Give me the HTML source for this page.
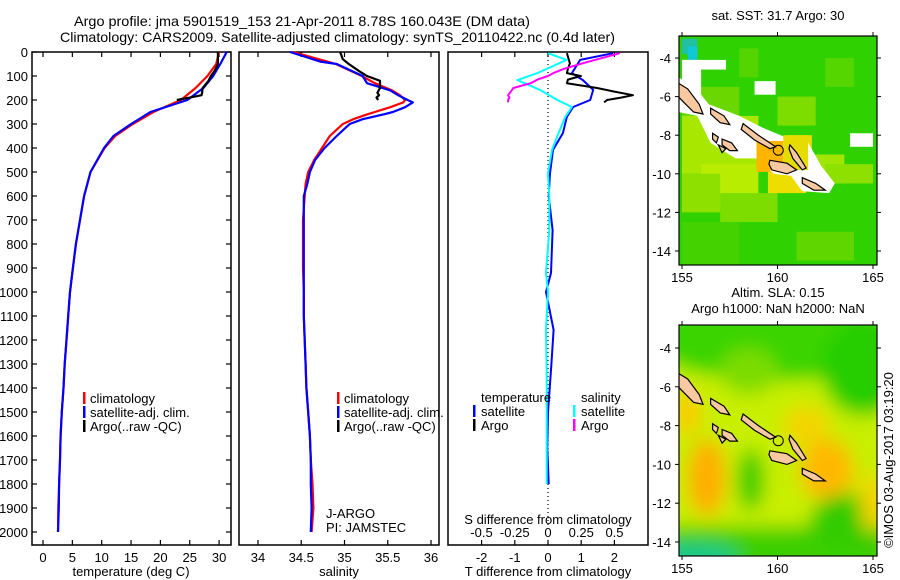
<!DOCTYPE html>
<html><head><meta charset="utf-8">
<style>
html,body{margin:0;padding:0;background:#fff;}
svg{display:block;font-family:"Liberation Sans",sans-serif;}
</style></head>
<body>
<svg id="fig" width="900" height="580" viewBox="0 0 900 580" xmlns="http://www.w3.org/2000/svg">
<defs>
<clipPath id="m1clip"><rect x="679" y="36" width="198" height="229"/></clipPath>
<clipPath id="m2clip"><rect x="679" y="325" width="198" height="231"/></clipPath>
<filter id="blur" x="-20%" y="-20%" width="140%" height="140%"><feGaussianBlur stdDeviation="9"/></filter>
</defs>
<text x="74" y="26" font-size="14" textLength="456" lengthAdjust="spacingAndGlyphs">Argo profile: jma 5901519_153 21-Apr-2011 8.78S 160.043E (DM data)</text>
<text x="60" y="42" font-size="14" textLength="555" lengthAdjust="spacingAndGlyphs">Climatology: CARS2009. Satellite-adjusted climatology: synTS_20110422.nc (0.4d later)</text>
<g id="panels"></g>
<g id="maps"></g>
<text transform="translate(893,460) rotate(-90)" font-size="13" text-anchor="middle">©IMOS 03-Aug-2017 03:19:20</text>
</svg>
<script>
// ---- data ----
const tDepth   = [0,50,100,150,200,250,300,350,400,500,600,700,800,900,1000,1100,1200,1300,1400,1500,1600,1700,1800,1900,2000];
const tClim    = [30.0,29.5,28.0,26.0,23.5,18.8,15.3,12.3,10.5,8.1,7.0,6.3,5.6,5.1,4.6,4.3,4.0,3.7,3.5,3.2,3.0,2.9,2.75,2.6,2.55];
const tSat     = [31.3,30.2,29.0,27.3,24.6,18.3,15.0,12.0,10.4,8.1,7.0,6.3,5.6,5.1,4.6,4.3,4.0,3.7,3.5,3.2,3.0,2.9,2.75,2.7,2.55];
const argoDepth= [0,30,50,80,100,120,150,170,180,190,200];
const tArgo    = [29.8,29.8,29.8,29.2,28.6,28.2,27.2,27.1,27.0,25.0,22.8];
const sDepth   = [0,40,50,100,130,160,180,200,210,230,250,260,280,300,350,400,450,500,550,600,700,800,900,1000,1100,1200,1300,1400,1500,1600,1700,1800,1900,2000];
const sClim    = [34.41,34.8,34.9,35.2,35.35,35.55,35.64,35.7,35.68,35.53,35.35,35.26,35.1,34.98,34.83,34.74,34.65,34.58,34.55,34.54,34.52,34.52,34.52,34.53,34.53,34.54,34.55,34.56,34.58,34.6,34.61,34.63,34.64,34.62];
const sSat     = [34.37,34.72,34.91,35.21,35.26,35.53,35.62,35.73,35.79,35.7,35.56,35.45,35.21,35.06,34.91,34.77,34.66,34.6,34.57,34.53,34.53,34.53,34.53,34.53,34.53,34.54,34.55,34.56,34.58,34.6,34.61,34.61,34.62,34.61];
const sArgo    = [34.95,34.98,35.05,35.17,35.26,35.41,35.41,35.38,35.4,35.37,35.39];
const dDepth   = [5,33,88,117,158,200,229,270,338,408,505,600,742,921,1000,1158,1325,1500,1650,1800];
const dTsat    = [1.96,0.97,0.72,1.05,1.36,1.27,0.76,0.57,0.45,0.15,0.06,0.02,0.14,0.09,-0.06,0.17,0.09,0.0,-0.02,0.02];
const dSsat    = [0.0,0.14,-0.08,-0.23,-0.06,0.07,0.18,0.13,0.08,0.03,0.0,0.01,0.01,-0.015,0.0,-0.015,-0.01,-0.01,-0.01,-0.01];
const dArgoDepth=[5,47,70,88,100,115,130,150,165,180,190,200,210];
const dTargo   = [0.57,0.66,0.6,0.57,0.99,0.6,0.57,1.48,2.0,2.56,2.2,1.78,1.69];
const dSargo   = [0.54,0.26,0.12,0.04,0.0,-0.08,-0.13,-0.26,-0.28,-0.3,-0.29,-0.3,-0.3];
const depthTicks = [0,100,200,300,400,500,600,700,800,900,1000,1100,1200,1300,1400,1500,1600,1700,1800,1900,2000];
const tTicks = [0,5,10,15,20,25,30];
const sTicks = [34,34.5,35,35.5,36];
const dTTicks = [-2,-1,0,1,2];
const dSTicks = [-0.5,-0.25,0,0.25,0.5];
const lonTicks = [155,160,165];
const latTicks = [-4,-6,-8,-10,-12,-14];

const NS="http://www.w3.org/2000/svg";
function el(tag, attrs, parent){const e=document.createElementNS(NS,tag);for(const k in attrs)e.setAttribute(k,attrs[k]);(parent||document.getElementById('panels')).appendChild(e);return e;}
const TOP=52, BOT=545;
const yD = d => TOP + d*0.24;
const xT = t => 43 + t*5.87;
const xS = s => 258 + (s-34)*86.5;
const xDT = t => 548 + t*33.2;
const xDS = s => 548 + s*133;
function line(xs, ds, fx, color, name, w){
  const pts = xs.map((v,i)=>fx(v).toFixed(1)+','+yD(ds[i]).toFixed(1)).join(' ');
  const p = el('polyline',{points:pts,fill:'none',stroke:color,'stroke-width':w||2.2,'stroke-linejoin':'round'});
  
  
}
function frame(x0,x1,name){
  const r=el('rect',{x:x0,y:TOP,width:x1-x0,height:BOT-TOP,fill:'none',stroke:'#000','stroke-width':1.5});
  
  
}
function xticks(vals, fx, labY, nm){
  vals.forEach(v=>{
    const x=fx(v);
    el('line',{x1:x,x2:x,y1:TOP,y2:TOP+5,stroke:'#000','stroke-width':1.2});
    el('line',{x1:x,x2:x,y1:BOT,y2:BOT-5,stroke:'#000','stroke-width':1.2});
    const t=el('text',{x:x,y:labY,'font-size':13,'text-anchor':'middle'});
    t.textContent = String(v);
    
    
  });
}
// panel 1
frame(32,231,'temperature-panel');
depthTicks.forEach(d=>{
  const y=yD(d);
  el('line',{x1:32,x2:37,y1:y,y2:y,stroke:'#000','stroke-width':1.2});
  el('line',{x1:231,x2:226,y1:y,y2:y,stroke:'#000','stroke-width':1.2});
  const t=el('text',{x:28,y:y+5,'font-size':13,'text-anchor':'end'});
  t.textContent=d;
  
  
});
xticks(tTicks,xT,562,'temperature');
line(tClim,tDepth,xT,'#f00','temperature-climatology-line');
line(tSat,tDepth,xT,'#00f','temperature-satellite-line');
line(tArgo,argoDepth,xT,'#000','temperature-argo-line');
// panel 2
frame(239,439,'salinity-panel');
xticks(sTicks,xS,562,'salinity');
line(sClim,sDepth,xS,'#f00','salinity-climatology-line');
line(sSat,sDepth,xS,'#00f','salinity-satellite-line');
line(sArgo,argoDepth,xS,'#000','salinity-argo-line');
// panel 3
frame(448,648,'difference-panel');
xticks(dTTicks,xDT,562,'t-difference');
dSTicks.forEach(v=>{
  const t=el('text',{x:xDS(v),y:537,'font-size':13,'text-anchor':'middle'});
  t.textContent=String(v);
  
  
});
el('line',{x1:548,x2:548,y1:TOP,y2:BOT-20,stroke:'#000','stroke-width':1.2,'stroke-dasharray':'1,3'});
line(dTsat,dDepth,xDT,'#00f','t-diff-satellite-line',2);
line(dSsat,dDepth,xDS,'#0ff','s-diff-satellite-line',2);
line(dTargo,dArgoDepth,xDT,'#000','t-diff-argo-line',2);
line(dSargo,dArgoDepth,xDS,'#f0f','s-diff-argo-line',2);

function txt(x,y,s,size,name,anchor){const t=el('text',{x:x,y:y,'font-size':size,'text-anchor':anchor||'start'});t.textContent=s;return t;}
function mark(x,y,c){el('rect',{x:x,y:y-11,width:2.5,height:12,fill:c});}
txt(131,576,'temperature (deg C)',13,'temperature-axis-title','middle');
txt(339,576,'salinity',13,'salinity-axis-title','middle');
txt(548,576,'T difference from climatology',13,'t-difference-axis-title','middle');
txt(548,524,'S difference from climatology',13,'s-difference-axis-title','middle');
const legendItems=[['climatology','#f00'],['satellite-adj. clim.','#00f'],['Argo(..raw -QC)','#000']];
[83,337].forEach((lx,pi)=>{
  legendItems.forEach((it,i)=>{
    const y=403+i*14;
    mark(lx,y,it[1]);
    txt(lx+7,y,it[0],13,(pi?'salinity':'temperature')+'-legend-entry');
  });
});
txt(326,518,'J-ARGO',13,'data-centre-label');
txt(326,532,'PI: JAMSTEC',13,'pi-label');
txt(481,402,'temperature',13,'diff-legend-temperature-header');
txt(581,402,'salinity',13,'diff-legend-salinity-header');
mark(473,416,'#00f');txt(481,416,'satellite',13,'diff-legend-t-satellite');
mark(473,430,'#000');txt(481,430,'Argo',13,'diff-legend-t-argo');
mark(573,416,'#0ff');txt(581,416,'satellite',13,'diff-legend-s-satellite');
mark(573,430,'#f0f');txt(581,430,'Argo',13,'diff-legend-s-argo');

// ---- maps ----
const G=document.getElementById('maps');
function mel(tag,attrs,parent){return el(tag,attrs,parent||G);}
function mapAxes(top,bot,latAt,name,titles){
  const X=lon=>682+(lon-155)*19.1;
  const r=mel('rect',{x:679,y:top,width:198,height:bot-top,fill:'none',stroke:'#000','stroke-width':1.2});
  
  
  lonTicks.forEach(l=>{
    mel('line',{x1:X(l),x2:X(l),y1:top,y2:top-4,stroke:'#000'});
    mel('line',{x1:X(l),x2:X(l),y1:bot,y2:bot+4,stroke:'#000'});
    const t=mel('text',{x:X(l),y:bot+17,'font-size':13,'text-anchor':'middle'});t.textContent=l;
    
    
  });
  latTicks.forEach(l=>{
    const y=latAt(l);
    mel('line',{x1:679,x2:675,y1:y,y2:y,stroke:'#000'});
    mel('line',{x1:877,x2:881,y1:y,y2:y,stroke:'#000'});
    const t=mel('text',{x:671,y:y+5,'font-size':13,'text-anchor':'end'});t.textContent=l;
    
    
  });
  titles.forEach(s=>{const t=mel('text',{x:778,y:s[1],'font-size':13,'text-anchor':'middle'});t.textContent=s[0];
    
    });
}
const islands=[
 [[154.8,-5.3],[155.3,-5.6],[155.9,-6.4],[156.1,-6.9],[155.6,-6.8],[155.1,-6.3],[154.8,-6.0]],
 [[156.5,-6.6],[157.2,-7.0],[157.5,-7.45],[157.0,-7.35],[156.5,-6.9]],
 [[158.2,-7.4],[159.0,-8.0],[159.9,-8.6],[159.6,-8.7],[158.8,-8.25],[158.1,-7.7]],
 [[156.6,-7.9],[156.9,-8.1],[156.8,-8.4],[156.6,-8.2]],
 [[157.1,-8.2],[157.6,-8.4],[157.9,-8.8],[157.5,-8.8],[157.1,-8.5]],
 [[156.9,-8.5],[157.3,-8.7],[157.1,-8.9]],
 [[159.6,-9.3],[160.5,-9.45],[161.0,-9.8],[160.5,-10.0],[159.7,-9.8],[159.55,-9.5]],
 [[160.65,-8.5],[161.0,-8.9],[161.5,-9.7],[161.3,-9.8],[160.8,-9.2],[160.6,-8.7]],
 [[161.3,-10.2],[162.0,-10.5],[162.5,-10.85],[161.9,-10.85],[161.3,-10.5]]
];
function drawMap(clip,latAt,cells,blur,name){
  const X=lon=>682+(lon-155)*19.1;
  const g=mel('g',{'clip-path':'url(#'+clip+')'});
  
  
  const inner=mel('g',blur?{filter:'url(#blur)'}:{},g);
  cells.forEach(c=>{
    if(c[0]==='e') mel('ellipse',{cx:X(c[1]),cy:latAt(c[2]),rx:c[3]*19.1,ry:c[4]*19.3,fill:c[5]},inner);
    else mel('rect',{x:X(c[0]),y:latAt(c[1]),width:(c[2]-c[0])*19.1,height:(c[1]-c[3])*19.3,fill:c[4]},inner);
  });
  return {g,X};
}
function drawIslands(g,X,latAt,name){
  islands.forEach(p=>{
    const poly=mel('polygon',{points:p.map(q=>X(q[0]).toFixed(1)+','+latAt(q[1]).toFixed(1)).join(' '),fill:'#f8c8a0',stroke:'#000','stroke-width':1.2},g);
    
    
  });
  const c=mel('circle',{cx:X(160.04),cy:latAt(-8.78),r:5,fill:'none',stroke:'#000','stroke-width':1},g);
  
  
}
// map 1: SST
const lat1=l=>58+(-4-l)*19.3;
const m1cells=[
 [154,-2,166,-16,'#2fd200'],
 [155,-5.5,158,-7.2,'#6ad800'],[158,-3.5,159,-5,'#55d500'],
 [160,-6,162,-7.5,'#7ddc00'],[162.5,-4,164,-5.5,'#55d600'],
 [155,-7,159,-10,'#a8e800'],[156,-9.5,159,-11.8,'#b8ec00'],[155,-10,157,-12,'#8ee000'],
 [157,-11,160,-12.5,'#7ddc00'],[161,-9,163.5,-10.5,'#a0e600'],[162.5,-9.5,165,-10.5,'#8ee000'],
 [159.5,-9.5,161.5,-11,'#eede00'],[160.5,-8,161.8,-9.5,'#e6dc00'],
 [158.9,-8.3,160.4,-9.9,'#ffb400'],
 [155,-12.5,158,-14.8,'#44d200'],[161,-13,164,-14.5,'#5fd600'],
 [155,-3,155.8,-3.8,'#20c0a0'],[155.3,-3.4,155.8,-4.1,'#10c8d8'],
 [155,-4.1,156,-6.0,'#ffffff'],[155,-4.1,157.3,-4.6,'#ffffff'],
 [158.8,-5.2,159.9,-5.9,'#ffffff'],[163.8,-7.9,165,-8.6,'#ffffff']
];
let r1=drawMap('m1clip',lat1,m1cells,false,'sst-map');
const band=[[154.8,-5.0],[155.6,-5.4],[156.4,-6.4],[158.0,-7.0],[159.2,-7.6],[160.4,-8.1],[161.5,-8.2],[162.3,-9.6],[163.0,-10.5],[162.7,-11.0],[161.3,-10.9],[160.7,-10.1],[159.8,-10.0],[159.0,-9.2],[157.8,-9.2],[156.5,-8.4],[155.8,-7.0],[154.8,-6.8]];
const bp=mel('polygon',{points:band.map(q=>r1.X(q[0]).toFixed(1)+','+lat1(q[1]).toFixed(1)).join(' '),fill:'#fff'},r1.g);


mel('rect',{x:r1.X(158.9),y:lat1(-8.3),width:1.4*19.1,height:1.5*19.3,fill:'#ffb400'},r1.g);
mel('rect',{x:r1.X(160.3),y:lat1(-8.0),width:1.3*19.1,height:1.8*19.3,fill:'#e6dc00'},r1.g);
drawIslands(r1.g,r1.X,lat1,'sst-map');
mapAxes(36,265,lat1,'sst-map',[['sat. SST: 31.7 Argo: 30',20]]);
// map 2: SLA
const lat2=l=>348+(-4-l)*19.4;
const m2cells=[
 [154,-2,166,-16,'#c8ee00'],
 ['e',160,-3.5,7,2.2,'#3ad400'],['e',164.5,-5,2.2,2.5,'#28ce00'],['e',158.5,-5.2,1.5,1.2,'#7cdc00'],
 ['e',156.3,-10.7,1.0,2.0,'#ffae00'],['e',162.6,-10.3,1.4,1.6,'#ffb800'],['e',161.5,-8.0,1.2,1.0,'#f4d400'],
 ['e',155.3,-7.3,0.6,1.2,'#ffc800'],
 ['e',158.6,-10.8,0.7,1.6,'#30cc00'],
 [154,-13.2,166,-16,'#3ccf00'],['e',163.5,-13.0,1.8,1.5,'#30cc00'],['e',155.5,-14.8,2.5,0.7,'#18c890'],
 ['e',164.9,-12.0,0.5,1.5,'#ffcc00']
];
let r2=drawMap('m2clip',lat2,m2cells,true,'sla-map');
drawIslands(r2.g,r2.X,lat2,'sla-map');
mapAxes(325,556,lat2,'sla-map',[['Altim. SLA: 0.15',297],['Argo h1000: NaN h2000: NaN',313]]);
</script>
</body></html>
